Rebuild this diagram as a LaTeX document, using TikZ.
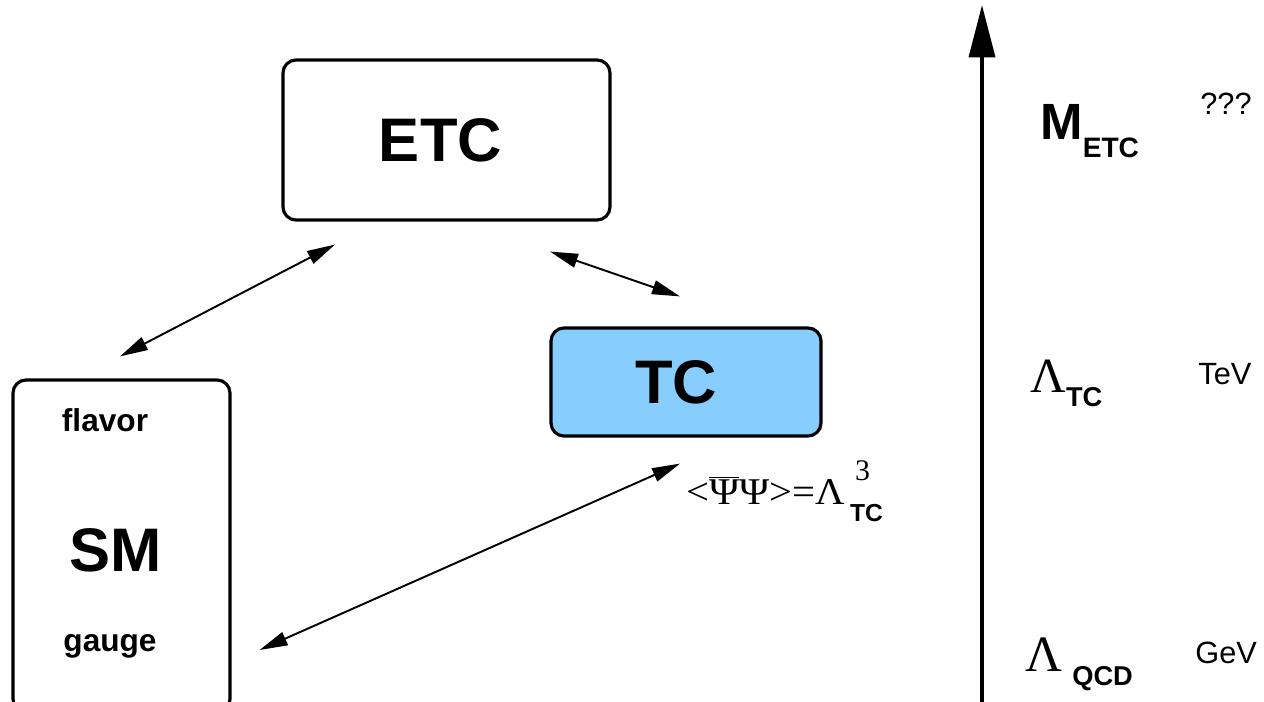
\documentclass[tikz,border=0pt]{standalone}
\usepackage{fontspec}
\setmainfont{Liberation Sans}
\newfontfamily\grk{Liberation Serif}
\usepackage{xcolor}
\usetikzlibrary{arrows.meta,calc}
\definecolor{tcblue}{RGB}{135,206,255}

\begin{document}
\begin{tikzpicture}[>={Triangle[length=5.6mm,width=2.8mm]},
 b/.style={draw,line width=1.8pt,rounded corners=2.6mm,inner sep=0pt},
 big/.style={font=\fontsize{35}{40}\selectfont\bfseries},
 lab/.style={font=\fontsize{18}{20}\selectfont\bfseries,anchor=base,inner sep=0pt},
 unit/.style={font=\fontsize{17.5}{20}\selectfont,anchor=base west,inner sep=0pt},
 sc/.style={anchor=base west,inner sep=0pt},
 e/.style={<->,line width=1.1pt}]
\useasboundingbox (0,0) rectangle (25.28,-14.04);
\node[b,big,minimum width=6.54cm,minimum height=3.2cm] (etc) at (8.93,-2.8) {ETC\hspace*{0.24cm}};
\node[b,big,fill=tcblue,minimum width=5.4cm,minimum height=2.16cm] (tc) at (13.72,-7.64) {TC\hspace*{0.4cm}};
\node[b,minimum width=4.34cm,minimum height=6.64cm] (sm) at (2.43,-10.92) {};
\node[big,anchor=base,inner sep=0pt] (smtxt) at (2.31,-11.44) {SM};
\node[lab] (flavor) at (2.1,-8.64) {flavor};
\node[lab] (gauge) at (2.2,-13.04) {gauge};
\node[sc] (cond) at (13.72,-10.1) {\grk\fontsize{21.5}{24}\selectfont\scalebox{1.08}[1]{<$\overline{\hbox{Ψ}}$Ψ>=Λ}\hspace{0.1cm}\rlap{\hspace{0.1cm}\raisebox{0.48cm}{\fontsize{17}{20}\selectfont 3}}\raisebox{-0.34cm}{\normalfont\bfseries\fontsize{14}{16}\selectfont TC}};
\draw[e] ([shift={(-2.23,-0.46)}]etc.south) -- ([shift={(-0.03,0.44)}]sm.north);
\draw[e] ([shift={(2.07,-0.6)}]etc.south) -- ([shift={(-0.12,0.6)}]tc.north);
\draw[e] ([shift={(-0.12,-0.52)}]tc.south) -- ([shift={(0.56,-2.08)}]sm.east);
\coordinate (axisbot) at (19.64,-14.2);
\coordinate (axistop) at (19.64,-0.1);
\draw[line width=2.2pt,-{Triangle[length=10.5mm,width=5.2mm]}] (axisbot) -- (axistop);
\node[sc] (metc) at (20.8,-2.8) {\fontsize{29}{32}\selectfont\bfseries M\raisebox{-0.36cm}{\fontsize{16}{18}\selectfont ETC}};
\node[sc] (ltc) at (20.6,-7.86) {\grk\fontsize{28}{32}\selectfont Λ\raisebox{-0.28cm}{\normalfont\bfseries\fontsize{15.5}{18}\selectfont TC}};
\node[sc] (lqcd) at (20.5,-13.44) {\grk\fontsize{29}{32}\selectfont Λ\hspace{0.2cm}\raisebox{-0.28cm}{\normalfont\bfseries\fontsize{15.5}{18}\selectfont QCD}};
\node[unit] (qqq) at (24.0,-2.3) {???};
\node[unit] (tev) at (23.96,-7.7) {TeV};
\node[unit] (gev) at (23.9,-13.26) {GeV};
\end{tikzpicture}
\end{document}
